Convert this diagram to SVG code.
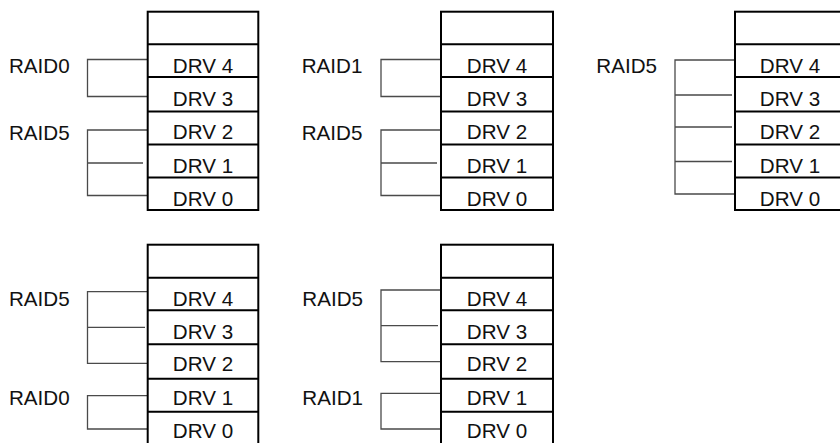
<svg xmlns="http://www.w3.org/2000/svg" width="840" height="443" viewBox="0 0 840 443">
<style>
.box{fill:#fff;stroke:#000;stroke-width:2}
.div{stroke:#000;stroke-width:2}
.drv{font-family:"Liberation Sans",Arial,sans-serif;font-size:20.6px;fill:#111;text-anchor:middle}
.lbl{font-family:"Liberation Sans",Arial,sans-serif;font-size:20.6px;fill:#111}
.con{fill:none;stroke:#4a4a4a;stroke-width:1.3}
</style>
<rect width="840" height="443" fill="#fff"/>
<g id="connectors">
<path class="con" d="M148 59.5H87.5V96.5H148"/>
<path class="con" d="M148 130H87.5V195.5H148M87.5 163H143"/>
<path class="con" d="M441 59.5H381V96.5H441"/>
<path class="con" d="M441 130H381V195.5H441M381 163H437"/>
<path class="con" d="M735 60H675V194H735M675 95H732M675 127H732M675 161.5H732"/>
<path class="con" d="M148 291.7H87.5V363.3H148M87.5 327.3H145"/>
<path class="con" d="M148 395.7H87.5V429H148"/>
<path class="con" d="M441 290H381V361.7H441M381 325.7H438"/>
<path class="con" d="M441 393.3H381V429H441"/>
</g>
<g id="label-b1-raid0"><text class="lbl" x="9" y="73.3">RAID0</text></g>
<g id="label-b1-raid5"><text class="lbl" x="9" y="140">RAID5</text></g>
<g id="label-b2-raid1"><text class="lbl" x="301.7" y="73.3">RAID1</text></g>
<g id="label-b2-raid5"><text class="lbl" x="301.7" y="140">RAID5</text></g>
<g id="label-b3-raid5"><text class="lbl" x="596.3" y="73.3">RAID5</text></g>
<g id="label-b4-raid5"><text class="lbl" x="9" y="306">RAID5</text></g>
<g id="label-b4-raid0"><text class="lbl" x="9" y="405">RAID0</text></g>
<g id="label-b5-raid5"><text class="lbl" x="302.3" y="306">RAID5</text></g>
<g id="label-b5-raid1"><text class="lbl" x="302.3" y="405">RAID1</text></g>
<g id="stack1">
<rect class="box" x="147.7" y="11.7" width="110.6" height="198.3"/>
<path class="div" d="M147.7 44.2H258.3M147.7 77H258.3M147.7 111.5H258.3M147.7 144.5H258.3M147.7 177.5H258.3"/>
<text class="drv" x="203" y="73.3">DRV 4</text>
<text class="drv" x="203" y="105.5">DRV 3</text>
<text class="drv" x="203" y="139.3">DRV 2</text>
<text class="drv" x="203" y="172.7">DRV 1</text>
<text class="drv" x="203" y="206">DRV 0</text>
</g>
<g id="stack2">
<rect class="box" x="441" y="11.7" width="112" height="198.3"/>
<path class="div" d="M441 44.2H553M441 77H553M441 111.5H553M441 144.5H553M441 177.5H553"/>
<text class="drv" x="497" y="73.3">DRV 4</text>
<text class="drv" x="497" y="105.5">DRV 3</text>
<text class="drv" x="497" y="139.3">DRV 2</text>
<text class="drv" x="497" y="172.7">DRV 1</text>
<text class="drv" x="497" y="206">DRV 0</text>
</g>
<g id="stack3">
<rect class="box" x="735" y="11.7" width="112" height="198.3"/>
<path class="div" d="M735 44.2H847M735 77H847M735 111.5H847M735 144.5H847M735 177.5H847"/>
<text class="drv" x="790" y="73.3">DRV 4</text>
<text class="drv" x="790" y="105.5">DRV 3</text>
<text class="drv" x="790" y="139.3">DRV 2</text>
<text class="drv" x="790" y="172.7">DRV 1</text>
<text class="drv" x="790" y="206">DRV 0</text>
</g>
<g id="stack4">
<rect class="box" x="147.7" y="244.7" width="110.6" height="201"/>
<path class="div" d="M147.7 277.7H258.3M147.7 310.3H258.3M147.7 344.3H258.3M147.7 378.7H258.3M147.7 411.7H258.3"/>
<text class="drv" x="203" y="306">DRV 4</text>
<text class="drv" x="203" y="338.5">DRV 3</text>
<text class="drv" x="203" y="371">DRV 2</text>
<text class="drv" x="203" y="405">DRV 1</text>
<text class="drv" x="203" y="438">DRV 0</text>
</g>
<g id="stack5">
<rect class="box" x="441" y="244.7" width="112" height="201"/>
<path class="div" d="M441 277.7H553M441 310.3H553M441 344.3H553M441 378.7H553M441 411.7H553"/>
<text class="drv" x="497" y="306">DRV 4</text>
<text class="drv" x="497" y="338.5">DRV 3</text>
<text class="drv" x="497" y="371">DRV 2</text>
<text class="drv" x="497" y="405">DRV 1</text>
<text class="drv" x="497" y="438">DRV 0</text>
</g>
</svg>
